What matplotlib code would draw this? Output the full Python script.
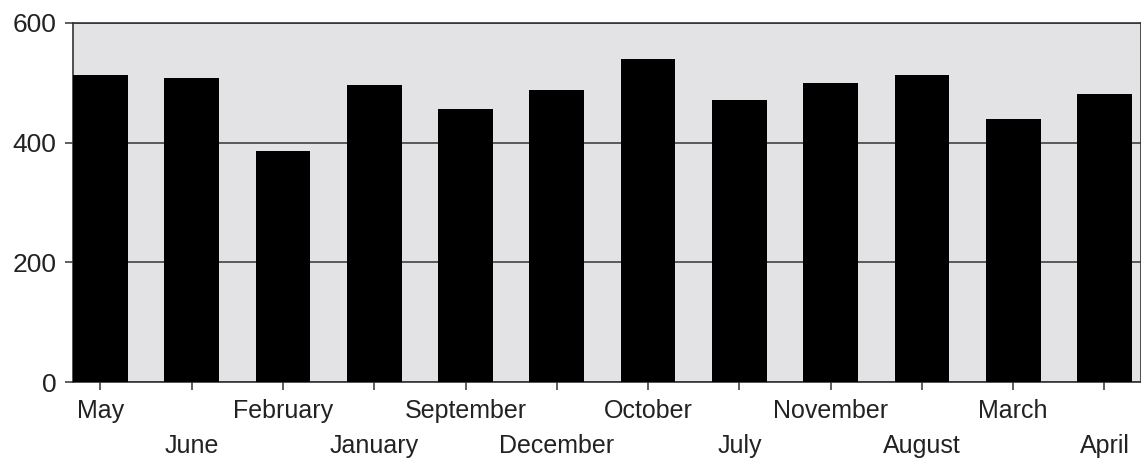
import matplotlib
matplotlib.use("Agg")
import matplotlib.pyplot as plt

plt.rcParams["font.family"] = ["Liberation Sans", "DejaVu Sans"]

months = ["May", "June", "February", "January", "September", "December",
          "October", "July", "November", "August", "March", "April"]
values = [513, 508, 386, 497, 457, 488, 540, 472, 500, 513, 440, 482]
y_ticks = [0, 200, 400, 600]

fig = plt.figure(figsize=(11.41, 4.76), dpi=100)
ax = fig.add_axes([0.064, 0.197, 0.936, 0.755])
ax.set_facecolor("#e3e3e5")

positions = list(range(len(months)))
ax.bar(positions, values, width=0.6, color="black", zorder=3)

ax.set_xlim(-0.3, 11.4)
ax.set_ylim(0, 600)
ax.set_yticks(y_ticks)
ax.set_yticklabels([str(t) for t in y_ticks], fontsize=19, color="#222222")
ax.grid(axis="y", color="#333333", linewidth=1.1, zorder=1)
ax.set_axisbelow(True)

# staggered month labels: even ones on major ticks, odd ones on minor ticks lower down
ax.set_xticks(positions[0::2])
ax.set_xticklabels(months[0::2], fontsize=18, color="#222222")
ax.set_xticks(positions[1::2], minor=True)
ax.set_xticklabels(months[1::2], minor=True, fontsize=18, color="#222222")

ax.tick_params(axis="both", direction="out", length=6, width=1.1,
               color="#333333", pad=6)
ax.tick_params(axis="x", which="minor", direction="out", length=6, width=1.1,
               color="#333333", pad=31)
ax.grid(axis="x", which="both", visible=False)
for side in ["left", "bottom", "top", "right"]:
    ax.spines[side].set_color("#333333")
    ax.spines[side].set_linewidth(1.2)

fig.savefig("out.png", dpi=100, facecolor="white")
